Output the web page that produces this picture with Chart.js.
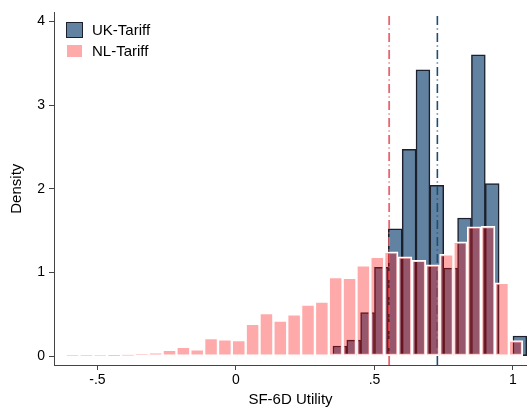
<!DOCTYPE html>
<html>
<head>
<meta charset="utf-8">
<script src="https://cdn.jsdelivr.net/npm/chart.js@4.4.1/dist/chart.umd.min.js"></script>
<style>
  html, body { margin: 0; padding: 0; background: #fff; }
  #wrap { position: relative; width: 527px; height: 409px; }
  .key { position: absolute; left: 66px; height: 18px; font: 15px/18px "Liberation Sans", Arial, sans-serif; color: #000; }
  .key span.box { position: absolute; left: 0; box-sizing: border-box; }
  .key span.txt { position: absolute; left: 26px; top: 0; white-space: nowrap; }
</style>
</head>
<body>
<div id="wrap">
  <canvas id="hist" width="527" height="409"></canvas>
  <div class="key" style="top:21px">
    <span class="box" style="top:1px;width:17px;height:16px;background:rgb(98,130,162);border:1.5px solid #1b202c"></span>
    <span class="txt">UK-Tariff</span>
  </div>
  <div class="key" style="top:42px">
    <span class="box" style="top:2px;width:17px;height:14px;background:rgb(255,170,170);border:1.5px solid #fff"></span>
    <span class="txt">NL-Tariff</span>
  </div>
</div>
<script>
// bin midpoints and densities
const ukMid = [0.375, 0.425, 0.475, 0.525, 0.575, 0.625, 0.675, 0.725, 0.775, 0.825, 0.875, 0.925, 0.975, 1.025];
const ukDensity = [0.12, 0.19, 0.52, 1.06, 1.52, 2.47, 3.42, 2.04, 1.05, 1.65, 3.6, 2.06, 0.012, 0.24];

const nlMid = [-0.59, -0.54, -0.49, -0.44, -0.39, -0.34, -0.29, -0.24, -0.19, -0.14, -0.09, -0.04, 0.01,
  0.06, 0.11, 0.16, 0.21, 0.26, 0.31, 0.36, 0.41, 0.46, 0.51, 0.56, 0.61, 0.66, 0.71, 0.76, 0.81,
  0.86, 0.91, 0.96, 1.01];
const nlDensity = [0.006, 0.006, 0.008, 0.01, 0.016, 0.03, 0.045, 0.075, 0.11, 0.08, 0.215, 0.2, 0.19,
  0.385, 0.515, 0.425, 0.5, 0.615, 0.65, 0.945, 0.935, 1.085, 1.185, 1.245, 1.185, 1.145, 1.09,
  1.215, 1.365, 1.545, 1.55, 0.875, 0.185];

const nlMean = 0.553;
const ukMean = 0.727;

const xTicks = [-0.5, 0, 0.5, 1];
const xTickLabels = ["-.5", "0", ".5", "1"];
const yTicks = [0, 1, 2, 3, 4];

const xMin = -0.657, xMax = 1.0506;
const yMin = -0.107, yMax = 4.107;

Chart.defaults.font.family = "'Liberation Sans', Arial, sans-serif";
Chart.defaults.color = "#000";

function toPoints(xs, ys) {
  return xs.map(function (x, i) { return { x: x, y: ys[i] }; });
}

function meanLine(v) {
  return [{ x: v, y: yMin }, { x: v, y: 4.07 }];
}

const ctx = document.getElementById("hist").getContext("2d");
new Chart(ctx, {
  type: "bar",
  data: {
    datasets: [
      {
        label: "NL-Tariff",
        data: toPoints(nlMid, nlDensity),
        xAxisID: "x2",
        backgroundColor: "rgba(255,0,0,0.333)",
        borderColor: "#ffffff",
        borderWidth: 1.5,
        borderSkipped: false,
        categoryPercentage: 1,
        barPercentage: 1,
        grouped: false,
        order: 1,
      },
      {
        type: "line",
        label: "NL mean",
        data: meanLine(nlMean),
        xAxisID: "x",
        borderColor: "#e8646e",
        borderWidth: 1.8,
        borderDash: [9, 3.5, 1, 3.5],
        pointRadius: 0,
        order: 2,
      },
      {
        type: "line",
        label: "UK mean",
        data: meanLine(ukMean),
        xAxisID: "x",
        borderColor: "#1d4e74",
        borderWidth: 1.6,
        borderDash: [9, 3.5, 1, 3.5],
        pointRadius: 0,
        order: 2,
      },
      {
        label: "UK-Tariff",
        data: toPoints(ukMid, ukDensity),
        xAxisID: "x",
        backgroundColor: "rgb(98,130,162)",
        borderColor: "#1b202c",
        borderWidth: 1.5,
        borderSkipped: false,
        categoryPercentage: 1,
        barPercentage: 1,
        grouped: false,
        order: 3,
      },
    ],
  },
  options: {
    responsive: false,
    animation: false,
    events: [],
    layout: { padding: { top: 11, right: 0, bottom: 0, left: 0 } },
    plugins: { legend: { display: false }, tooltip: { enabled: false } },
    scales: {
      x: {
        type: "linear",
        min: xMin,
        max: xMax,
        offset: false,
        afterBuildTicks: function (s) { s.ticks = xTicks.map(function (v) { return { value: v }; }); },
        afterFit: function (s) { s.height = 44; },
        ticks: {
          font: { size: 14 },
          padding: 2,
          maxRotation: 0,
          callback: function (v) { return xTickLabels[xTicks.indexOf(v)]; },
        },
        grid: { drawOnChartArea: false, tickLength: 5, color: "#444", offset: false },
        border: { color: "#444", width: 1 },
        title: {
          display: true,
          text: "SF-6D Utility",
          font: { size: 15, lineHeight: 1.2 },
          padding: { top: 0, bottom: 0 },
        },
      },
      x2: {
        type: "linear",
        display: false,
        min: xMin,
        max: xMax,
        offset: false,
        afterBuildTicks: function (s) { s.ticks = xTicks.map(function (v) { return { value: v }; }); },
        grid: { offset: false },
      },
      y: {
        min: yMin,
        max: yMax,
        afterBuildTicks: function (s) { s.ticks = yTicks.map(function (v) { return { value: v }; }); },
        afterFit: function (s) { s.width = 54; },
        ticks: { font: { size: 14 }, padding: 4 },
        grid: { drawOnChartArea: false, tickLength: 5, color: "#444" },
        border: { color: "#444", width: 1 },
        title: {
          display: true,
          text: "Density",
          font: { size: 15, lineHeight: 1.2 },
          padding: { top: 8, bottom: 0 },
        },
      },
    },
  },
});
</script>
</body>
</html>
